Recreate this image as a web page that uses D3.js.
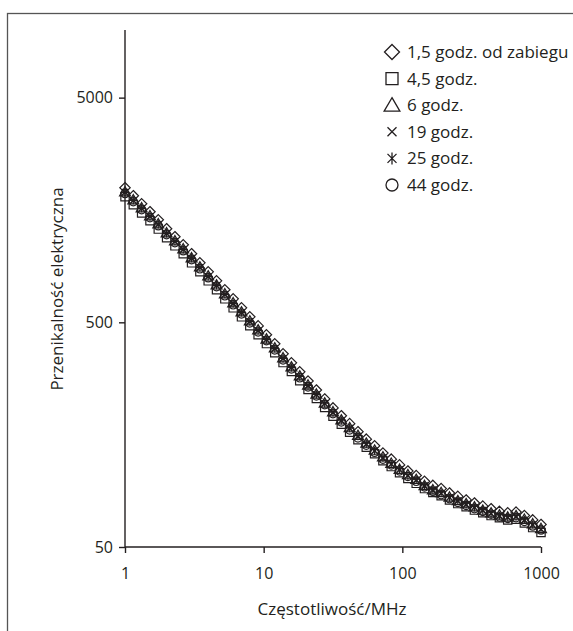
<!DOCTYPE html>
<html>
<head>
<meta charset="utf-8">
<script src="https://cdn.jsdelivr.net/npm/d3@7"></script>
<style>
  body { margin: 0; background: #fff; }
  svg { display: block; font-family: "Open Sans", "Noto Sans", sans-serif; }
</style>
</head>
<body>
<div id="chart"></div>
<script>
// frequency in MHz (shared by all series)
const freq = [1, 1.148, 1.318, 1.514, 1.738, 1.995, 2.291, 2.63, 3.02, 3.467, 3.981, 4.571, 5.248, 6.026, 6.918, 7.943, 9.12,
  10.47, 12.02, 13.8, 15.85, 18.2, 20.89, 23.99, 27.54, 31.62, 36.31, 41.69, 47.86, 54.95, 63.1, 72.44, 83.18, 95.5,
  109.6, 125.9, 144.5, 166, 190.5, 218.8, 251.2, 288.4, 331.1, 380.2, 436.5, 501.2, 575.4, 660.7, 758.6, 871, 1000];

const h1_5 = [1986, 1830, 1685, 1553, 1430, 1305, 1202, 1107, 1010, 920, 839, 765, 698, 636, 580, 529, 482, 440, 401, 362,
  330, 301, 274, 250, 228, 208, 192, 177, 163, 151, 141, 131, 123, 116, 109, 104, 98, 94, 91, 87, 84, 81, 78.5, 76, 74, 72,
  71, 71.5, 69, 66, 63];
const h4_5 = [1810, 1670, 1535, 1415, 1300, 1190, 1095, 1010, 920, 840, 765, 698, 636, 580, 529, 483, 440, 402, 366, 331,
  302, 275, 251, 229, 209, 191, 176, 162, 150, 139, 130, 121, 114, 107, 101, 96, 91, 87.5, 84.5, 81, 78, 75.5, 73, 71, 69,
  67.5, 66, 66.5, 64, 61, 58];
const h6 = [1905, 1757, 1618, 1491, 1373, 1253, 1154, 1063, 970, 883, 805, 734, 670, 611, 557, 508, 463, 422, 385, 348,
  317, 289, 263, 240, 219, 200, 184, 170, 157, 145, 135, 126, 118, 111, 105, 100, 94, 90, 87.5, 83.5, 80.5, 78, 75.5, 73,
  71, 69.5, 68, 69, 66.5, 63.5, 60.5];
const h19 = [1890, 1740, 1600, 1475, 1360, 1240, 1142, 1052, 960, 874, 797, 727, 663, 604, 551, 503, 458, 418, 381, 344,
  314, 286, 260, 238, 217, 198, 182, 168, 155, 143, 134, 124, 117, 110, 104, 99, 93, 89, 86.5, 83, 80, 77, 75, 72.5, 70.5,
  68.5, 67.5, 68, 65.5, 62.5, 60];
const h25 = [1900, 1748, 1610, 1483, 1366, 1246, 1148, 1057, 965, 879, 801, 731, 667, 607, 554, 505, 460, 420, 383, 346,
  315, 287, 262, 239, 218, 199, 183, 169, 156, 144, 134, 125, 117, 111, 104, 99.5, 94, 90, 87, 83, 80.5, 77.5, 75, 73,
  70.5, 69, 68, 68.5, 66, 63, 60];
const h44 = [1870, 1722, 1585, 1460, 1345, 1228, 1130, 1041, 950, 865, 789, 720, 656, 598, 545, 497, 453, 414, 377, 340,
  310, 283, 258, 235, 215, 196, 180, 166, 153, 142, 132, 123, 116, 109, 103, 98, 92.5, 88.5, 85.5, 82, 79, 76.5, 74, 72,
  70, 68, 67, 67.5, 65, 62, 59.5];

const seriesNames = ["1,5 godz. od zabiegu", "4,5 godz.", "6 godz.", "19 godz.", "25 godz.", "44 godz."];
const seriesShapes = ["diamond", "square", "triangle", "times", "asterisk", "circle"];
const seriesValues = [h1_5, h4_5, h6, h19, h25, h44];

const xTicks = [1, 10, 100, 1000];
const yTicks = [50, 500, 5000];

const W = 573, H = 631;
const ink = "#231f20";

const svg = d3.select("#chart").append("svg")
  .attr("width", W).attr("height", H);

// outer frame (only left and top edges fall inside the picture)
svg.append("rect")
  .attr("x", 7.5).attr("y", 13.5)
  .attr("width", 700).attr("height", 700)
  .attr("fill", "none").attr("stroke", "#555").attr("stroke-width", 1.3);

const x = d3.scaleLog().domain([1, 1000]).range([125, 541]);
const y = d3.scaleLog().domain([50, 10000]).range([547, 30]);

// marker path for a given shape and half-size
function marker(shape, r) {
  const p = d3.path();
  if (shape === "diamond") {
    p.moveTo(0, -r); p.lineTo(r, 0); p.lineTo(0, r); p.lineTo(-r, 0); p.closePath();
  } else if (shape === "square") {
    p.rect(-r * 0.8, -r * 0.8, r * 1.6, r * 1.6);
  } else if (shape === "triangle") {
    p.moveTo(0, -r); p.lineTo(r * 1.05, r * 0.8); p.lineTo(-r * 1.05, r * 0.8); p.closePath();
  } else if (shape === "times") {
    const a = r * 0.6;
    p.moveTo(-a, -a); p.lineTo(a, a); p.moveTo(-a, a); p.lineTo(a, -a);
  } else if (shape === "asterisk") {
    const a = r * 0.6;
    p.moveTo(-a, -a); p.lineTo(a, a); p.moveTo(-a, a); p.lineTo(a, -a);
    p.moveTo(0, -r * 0.8); p.lineTo(0, r * 0.8);
  } else {
    p.arc(0, 0, r * 0.8, 0, 2 * Math.PI);
  }
  return p.toString();
}

// axes
const yAxis = svg.append("g")
  .attr("transform", "translate(125,0)")
  .call(d3.axisLeft(y).tickValues(yTicks).tickFormat(d3.format("d")).tickSize(6).tickPadding(6));
yAxis.select(".domain").attr("d", `M0,${y(10000)}V${y(50)}`);

const xAxis = svg.append("g")
  .attr("transform", "translate(0,547)")
  .call(d3.axisBottom(x).tickValues(xTicks).tickFormat(d3.format("d")).tickSize(6).tickPadding(15));
xAxis.select(".domain").attr("d", `M${x(1)},0H${x(1000)}`);

svg.selectAll(".domain, .tick line").attr("stroke", ink).attr("stroke-width", 1.4);
svg.selectAll(".tick text").attr("fill", ink).style("font-size", "16px").style("font-family", "\"Open Sans\", sans-serif");

svg.append("text")
  .attr("x", 332).attr("y", 615)
  .attr("text-anchor", "middle")
  .attr("fill", ink).style("font-size", "17px")
  .text("Częstotliwość/MHz");

svg.append("text")
  .attr("transform", "translate(63,289) rotate(-90)")
  .attr("text-anchor", "middle")
  .attr("fill", ink).style("font-size", "17px")
  .text("Przenikalność elektryczna");

// points: draw squares first, diamonds last
const drawOrder = [1, 5, 2, 3, 4, 0];
drawOrder.forEach(si => {
  svg.append("g").selectAll("path")
    .data(freq.map((f, i) => [f, seriesValues[si][i]]))
    .enter().append("path")
    .attr("transform", d => `translate(${x(d[0])},${y(d[1])})`)
    .attr("d", marker(seriesShapes[si], 5.2))
    .attr("fill", "none")
    .attr("stroke", ink)
    .attr("stroke-width", 1.2);
});

// legend
const legend = svg.append("g").attr("transform", "translate(392,52)");
seriesNames.forEach((name, i) => {
  const row = legend.append("g").attr("transform", `translate(0,${i * 26.6})`);
  row.append("path")
    .attr("d", marker(seriesShapes[i], 7.5))
    .attr("fill", "none").attr("stroke", ink).attr("stroke-width", 1.3);
  row.append("text")
    .attr("x", 15).attr("y", 6)
    .attr("fill", ink).style("font-size", "17px")
    .text(name);
});
</script>
</body>
</html>
